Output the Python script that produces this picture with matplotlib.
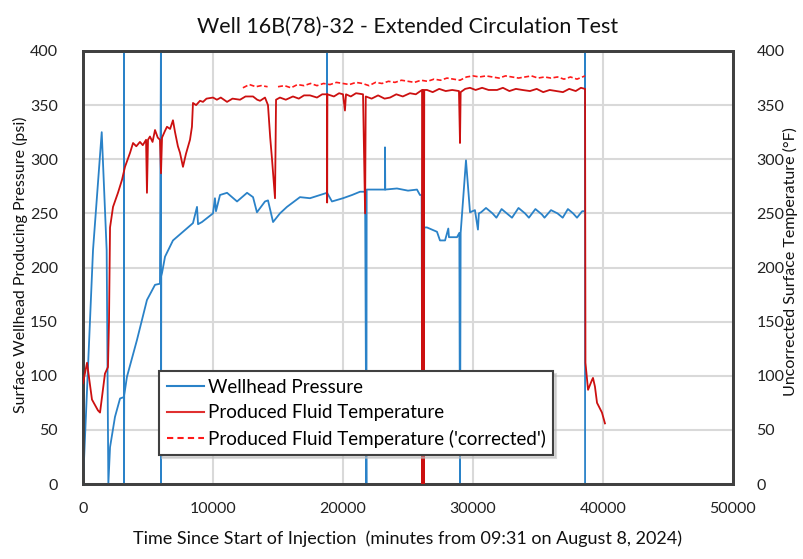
import numpy as np
import matplotlib
matplotlib.use("Agg")
import matplotlib.pyplot as plt
from matplotlib.lines import Line2D

plt.rcParams['font.family'] = ['Lato', 'DejaVu Sans']

title = "Well 16B(78)-32 - Extended Circulation Test"
xlabel = "Time Since Start of Injection  (minutes from 09:31 on August 8, 2024)"
ylabel_left = "Surface Wellhead Producing Pressure (psi)"
ylabel_right = "Uncorrected Surface Temperature (\u00b0F)"
series_names = ["Wellhead Pressure", "Produced Fluid Temperature",
                "Produced Fluid Temperature ('corrected')"]

# Wellhead pressure (psi)
pres_t = [0, 770, 1440, 1820, 1950, 2080, 2460, 2850, 3080, 3150, 3150, 3150, 3170, 3380,
          4150, 4920, 5540, 5920, 6000, 6000, 6020, 6080, 6310, 6920, 7690, 8460, 8770,
          8850, 9150, 10000, 10150, 10230, 10540, 11080, 11850, 12620, 13080, 13380, 14000,
          14230, 14620, 15150, 15690, 16690, 17460, 18770, 18770, 18780, 19150, 20000,
          20700, 21310, 21700, 21800, 21820, 22500, 23230, 23230, 23250, 24150, 25000,
          25690, 25920, 26050, 26100, 26150, 26200, 26250, 26460, 27230, 27460, 27850,
          28100, 28150, 28770, 28950, 29000, 29050, 29460, 29770, 30150, 30380, 30450,
          30620, 31000, 31500, 31800, 32200, 32700, 33000, 33500, 34000, 34300, 34800,
          35300, 35500, 36000, 36500, 36900, 37300, 37700, 38000, 38400, 38620, 38620, 38620]
pres_v = [0, 216, 325, 216, 0, 34, 62, 79, 80, 80, 420, 0, 82, 99,
          133, 170, 184, 185, 420, 0, 192, 195, 210, 225, 233, 241, 256,
          240, 242, 250, 264, 252, 267, 269, 261, 269, 265, 251, 261,
          262, 242, 250, 256, 265, 264, 269, 420, 269, 261, 264,
          267, 270, 270, 0, 272, 272, 272, 311, 272, 273, 271,
          272, 267, 267, 0, 240, 0, 237, 237, 233, 225, 225,
          236, 228, 228, 232, 0, 232, 299, 251, 253, 235, 250,
          251, 255, 250, 246, 254, 249, 246, 255, 250, 246, 254,
          249, 246, 253, 250, 246, 254, 250, 246, 252, 252, 420, 0]

# Produced fluid temperature (F)
temp_t = [0, 310, 690, 1150, 1310, 1690, 1920, 2000, 2080, 2310, 2690, 3000, 3230, 3620,
          3850, 4100, 4380, 4600, 4850, 4920, 5000, 5150, 5350, 5540, 5750, 5920, 6000,
          6080, 6300, 6460, 6700, 6920, 7080, 7300, 7460, 7690, 7920, 8230, 8380, 8460,
          8700, 9000, 9230, 9500, 10000, 10300, 10600, 11080, 11500, 12080, 12500, 13080,
          13400, 13620, 14000, 14230, 14400, 14540, 14700, 14770, 14850, 15150, 15600,
          16150, 16600, 17000, 17460, 18000, 18400, 18770, 18780, 18800, 19300, 19700,
          20000, 20150, 20230, 20600, 21000, 21540, 21700, 21750, 22200, 22700, 23200,
          23620, 24100, 24600, 25150, 25600, 26080, 26100, 26150, 26200, 26250, 26460,
          26900, 27400, 27900, 28400, 28920, 29000, 29050, 29400, 29770, 30200, 30700,
          31200, 31850, 32300, 32800, 33300, 33800, 34380, 34900, 35400, 35900, 36400,
          36920, 37400, 37900, 38300, 38620, 38650, 38850, 39150, 39230, 39380, 39540,
          39920, 40150]
temp_v = [93, 112, 78, 68, 66, 102, 108, 150, 237, 256, 269, 281, 293, 306,
          315, 312, 316, 313, 318, 269, 318, 321, 316, 327, 320, 318, 287,
          320, 326, 330, 328, 336, 325, 312, 306, 293, 305, 318, 330, 352,
          350, 354, 353, 356, 357, 355, 357, 353, 356, 355, 358, 358,
          355, 354, 357, 350, 320, 300, 275, 264, 355, 357, 355,
          358, 356, 359, 359, 357, 360, 360, 260, 360, 358, 361,
          360, 345, 360, 358, 361, 360, 250, 358, 356, 359, 356,
          357, 360, 358, 361, 360, 364, 0, 364, 0, 364, 364,
          362, 365, 363, 364, 363, 315, 362, 365, 366, 364, 366,
          364, 364, 366, 363, 365, 364, 363, 365, 362, 364, 363,
          362, 365, 363, 366, 365, 112, 87, 96, 98, 90, 75,
          66, 56]

# Produced fluid temperature, 'corrected' (F)
corr_t = [12300, 12800, 13300, 13700, 14200, 14300, 15000, 15500, 16000, 16500, 17000,
          17500, 18000, 18500, 19000, 19500, 20000, 20500, 21000, 21500, 22000, 22500,
          23000, 23500, 24000, 24500, 25000, 25500, 26000, 26500, 27000, 27500, 28000,
          28500, 29000, 29500, 30000, 30500, 31000, 31500, 32000, 32500, 33000, 33500,
          34000, 34500, 35000, 35500, 36000, 36500, 37000, 37500, 38000, 38620]
corr_v = [366, 369, 367, 368, 367, np.nan, 367, 368, 366, 369, 368,
          370, 368, 370, 369, 371, 370, 369, 371, 370, 368, 371,
          370, 372, 371, 373, 372, 371, 373, 372, 374, 373, 375,
          374, 373, 376, 377, 376, 377, 376, 375, 377, 376, 375,
          376, 377, 375, 376, 375, 376, 374, 376, 374, 377]

blue = '#2a82c8'
red_solid = '#cc1010'
red_dash = '#ff1a1a'

fig = plt.figure(figsize=(8.04, 5.59), dpi=100)
ax = fig.add_axes([83/804, 75/559, 650/804, 433/559])
ax2 = ax.twinx()

ax.set_xlim(0, 50000)
ax.set_ylim(0, 400)
ax2.set_ylim(0, 400)
ax.set_xticks(np.arange(0, 50001, 10000))
ax.set_yticks(np.arange(0, 401, 50))
ax2.set_yticks(np.arange(0, 401, 50))

ax.grid(True, color='#d9d9d9', lw=1.5)
ax.set_axisbelow(True)

ax.plot(pres_t, pres_v, color=blue, lw=1.3, zorder=3)
ax2.plot(temp_t, temp_v, color=red_solid, lw=1.3, zorder=3)
ax2.plot(corr_t, corr_v, color=red_dash, lw=1.2, ls=(0, (3, 1.5)), zorder=3)

for a in (ax, ax2):
    for s in a.spines.values():
        s.set_color('#404040')
        s.set_linewidth(2)
ax.tick_params(axis='both', length=0, labelsize=11.5, colors='#222222')
ax.tick_params(axis='y', pad=18)
ax.tick_params(axis='x', pad=13)
ax2.tick_params(axis='y', length=0, labelsize=11.5, pad=17, colors='#222222')

ax.set_title(title, fontsize=15.5, pad=13, color='#111111')
ax.set_xlabel(xlabel, fontsize=13, labelpad=10, color='#111111')
fig.text(20/804, 1 - 265/559, ylabel_left, rotation=90, ha='center', va='center',
         fontsize=11.5, color='#111111')
fig.text(790/804, 1 - 262/559, ylabel_right, rotation=90, ha='center', va='center',
         fontsize=11.5, color='#111111')

handles = [Line2D([], [], color=blue, lw=1.5),
           Line2D([], [], color='#e03030', lw=1.5),
           Line2D([], [], color=red_dash, lw=1.5, ls=(0, (3, 2)))]
leg = ax2.legend(handles, series_names, loc='lower left', bbox_to_anchor=(0.103, 0.045),
                 fontsize=13.5, frameon=True, fancybox=False, handlelength=2.0,
                 handletextpad=0.2, labelspacing=0.45, borderpad=0.4,
                 shadow={'ox': 2, 'oy': -2, 'color': '#bbbbbb'})
leg.get_frame().set_edgecolor('#404040')
leg.get_frame().set_linewidth(1.5)
leg.set_zorder(10)

fig.savefig('out.png', dpi=100)
